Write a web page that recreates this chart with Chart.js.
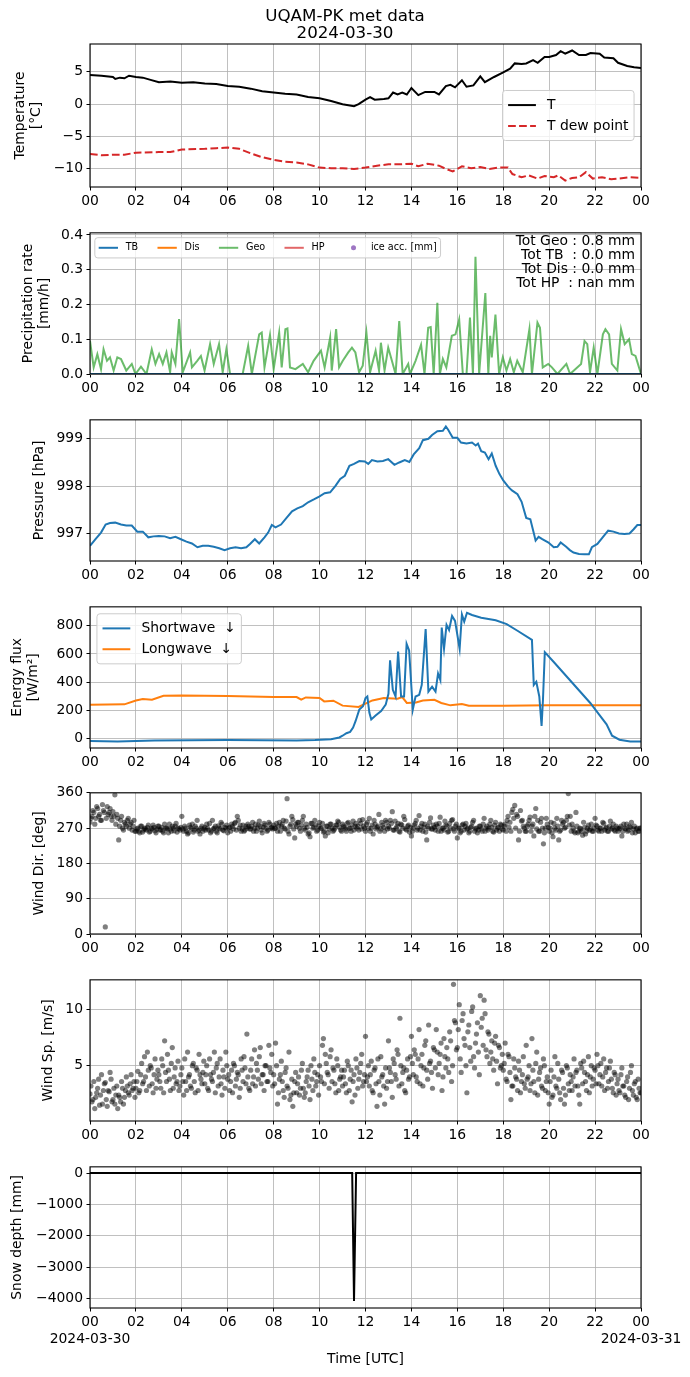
<!DOCTYPE html>
<html>
<head>
<meta charset="utf-8">
<script src="https://cdn.jsdelivr.net/npm/chart.js@4.4.1/dist/chart.umd.min.js"></script>
<style>
body { margin: 0; background: #fff; width: 690px; height: 1377px; position: relative; overflow: hidden; }
canvas { position: absolute; left: 0; }
</style>
</head>
<body>
<canvas id="c1"></canvas>
<canvas id="c2"></canvas>
<canvas id="c3"></canvas>
<canvas id="c4"></canvas>
<canvas id="c5"></canvas>
<canvas id="c6"></canvas>
<canvas id="c7"></canvas>
<script>
// ---- data ----
const hourTicks = [0, 2, 4, 6, 8, 10, 12, 14, 16, 18, 20, 22, 24];
const hourLabels = ['00', '02', '04', '06', '08', '10', '12', '14', '16', '18', '20', '22', '00'];

// temperature [°C]
const tempHours = [0, 0.5, 1, 1.1, 1.3, 1.5, 1.7, 2, 2.3, 2.6, 3, 3.5, 4, 4.5, 5, 5.5, 6, 6.5, 7, 7.5, 8, 8.5, 9, 9.5, 10, 10.5, 11, 11.5, 11.7, 12, 12.2, 12.4, 12.8, 13, 13.2, 13.4, 13.6, 13.8, 14, 14.3, 14.6, 15, 15.2, 15.5, 15.7, 15.9, 16.2, 16.4, 16.7, 17, 17.2, 17.6, 18, 18.3, 18.5, 18.8, 19, 19.3, 19.5, 19.8, 20, 20.3, 20.5, 20.7, 21, 21.3, 21.6, 21.8, 22.2, 22.4, 22.8, 23, 23.4, 23.7, 24];
const tempValues = [4.5, 4.4, 4.2, 3.9, 4.1, 4.0, 4.4, 4.2, 4.1, 3.8, 3.4, 3.5, 3.3, 3.4, 3.2, 3.1, 2.8, 2.7, 2.4, 2.0, 1.8, 1.6, 1.5, 1.1, 0.9, 0.5, 0.0, -0.3, 0.0, 0.7, 1.1, 0.7, 0.8, 0.9, 1.8, 1.5, 1.8, 1.5, 2.5, 1.4, 1.9, 1.9, 1.5, 2.8, 3.0, 2.6, 3.7, 2.7, 2.9, 4.3, 3.4, 4.2, 4.9, 5.5, 6.3, 6.2, 6.3, 6.8, 6.4, 7.3, 7.3, 7.6, 8.2, 7.8, 8.3, 7.6, 7.6, 7.9, 7.8, 7.2, 7.1, 6.4, 5.9, 5.7, 5.6];
const dewHours = [0, 0.5, 1, 1.5, 2, 3, 3.5, 4, 5, 5.5, 6, 6.5, 7, 7.5, 8, 8.5, 9, 9.5, 10, 10.5, 11, 11.5, 12, 12.5, 13, 13.5, 14, 14.3, 14.7, 15.2, 15.5, 15.8, 16.2, 16.6, 17, 17.4, 17.8, 18.2, 18.4, 18.8, 19.1, 19.5, 19.8, 20.2, 20.4, 20.7, 21, 21.3, 21.6, 21.9, 22.3, 22.7, 23, 23.5, 24];
const dewValues = [-7.7, -7.9, -7.8, -7.8, -7.5, -7.4, -7.4, -7.0, -6.9, -6.8, -6.7, -6.9, -7.6, -8.2, -8.6, -8.9, -9.0, -9.3, -9.8, -9.9, -9.9, -10.0, -9.8, -9.5, -9.3, -9.3, -9.2, -9.6, -9.2, -9.5, -10.0, -10.4, -9.6, -9.9, -9.7, -10.0, -9.8, -9.8, -10.8, -11.3, -11.0, -11.5, -11.1, -11.3, -11.0, -11.8, -11.4, -11.3, -10.5, -11.5, -11.3, -11.6, -11.5, -11.3, -11.4];
const tempTicks = [-10, -5, 0, 5];

// precipitation rate [mm/h]
const geoHours = [0, 0.16, 0.32, 0.48, 0.59, 0.74, 0.87, 1.03, 1.19, 1.35, 1.58, 1.82, 1.98, 2.22, 2.46, 2.69, 2.85, 3.01, 3.17, 3.33, 3.49, 3.56, 3.72, 3.88, 4.04, 4.36, 4.44, 4.67, 4.83, 4.99, 5.23, 5.39, 5.62, 5.78, 5.94, 6.10, 6.34, 6.65, 6.89, 7.05, 7.37, 7.48, 7.60, 7.84, 8.00, 8.24, 8.35, 8.51, 8.60, 8.71, 8.95, 9.27, 9.50, 9.74, 10.06, 10.22, 10.46, 10.53, 10.72, 10.85, 11.01, 11.25, 11.41, 11.56, 11.72, 11.88, 12.04, 12.20, 12.44, 12.59, 12.67, 12.83, 12.99, 13.15, 13.31, 13.47, 13.62, 13.86, 13.94, 14.18, 14.42, 14.57, 14.73, 14.84, 14.97, 15.13, 15.24, 15.37, 15.52, 15.76, 15.92, 16.08, 16.24, 16.40, 16.55, 16.68, 16.79, 16.95, 17.22, 17.35, 17.43, 17.50, 17.66, 17.82, 17.98, 18.14, 18.30, 18.46, 18.61, 18.85, 19.14, 19.25, 19.49, 19.60, 19.72, 19.96, 20.12, 20.36, 20.75, 20.91, 21.39, 21.54, 21.66, 21.78, 21.94, 22.10, 22.34, 22.45, 22.61, 22.73, 22.97, 23.13, 23.29, 23.48, 23.60, 23.76, 24];
const geoValues = [0.095, 0.019, 0.057, 0.014, 0.071, 0.038, 0.048, 0.010, 0.048, 0.043, 0.010, 0.029, 0, 0.021, 0, 0.071, 0.029, 0.057, 0.029, 0.062, 0.005, 0.062, 0.029, 0.158, 0.005, 0.062, 0.019, 0.038, 0.052, 0.010, 0.086, 0.029, 0.086, 0.005, 0.071, 0, 0, 0, 0.081, 0, 0.114, 0.119, 0.019, 0.112, 0.014, 0.119, 0.019, 0.129, 0.131, 0.019, 0.014, 0.029, 0.005, 0.038, 0.067, 0.019, 0.105, 0.010, 0.129, 0.019, 0.038, 0.062, 0.076, 0.062, 0.005, 0.024, 0.119, 0.005, 0.067, 0.010, 0.090, 0.010, 0.076, 0.038, 0, 0.152, 0, 0.029, 0, 0.038, 0.084, 0, 0.133, 0.135, 0, 0.205, 0, 0.043, 0.019, 0.110, 0.114, 0.157, 0, 0, 0.162, 0, 0.337, 0, 0.233, 0, 0.110, 0.048, 0.171, 0, 0.048, 0.010, 0.043, 0.005, 0.038, 0.005, 0.129, 0, 0.148, 0.133, 0.019, 0.029, 0.019, 0, 0.029, 0, 0.029, 0.095, 0.086, 0.005, 0.076, 0, 0.114, 0.129, 0.114, 0.029, 0.010, 0.129, 0.086, 0.100, 0.057, 0.052, 0];
const zeroHours = [0, 24];
const tbValues = [0, 0];
const disValues = [0, 0];
const hpValues = [0, 0];
const precipTicks = [0, 0.1, 0.2, 0.3, 0.4];
const precipTickLabels = ['0.0', '0.1', '0.2', '0.3', '0.4'];
const precipTotals = ['Tot Geo : 0.8 mm', 'Tot TB  : 0.0 mm', 'Tot Dis : 0.0 mm', 'Tot HP  : nan mm'];

// pressure [hPa]
const presHours = [0, 0.24, 0.48, 0.68, 0.87, 1.1, 1.35, 1.58, 1.82, 2.06, 2.3, 2.54, 2.77, 3.0, 3.25, 3.49, 3.72, 3.96, 4.2, 4.44, 4.68, 4.91, 5.15, 5.39, 5.63, 5.86, 6.1, 6.34, 6.58, 6.81, 6.97, 7.18, 7.37, 7.6, 7.76, 7.92, 8.08, 8.32, 8.56, 8.8, 9.03, 9.27, 9.5, 9.75, 9.98, 10.22, 10.46, 10.7, 10.9, 11.1, 11.3, 11.5, 11.73, 11.97, 12.12, 12.28, 12.52, 12.76, 12.99, 13.26, 13.47, 13.71, 13.91, 14.1, 14.34, 14.5, 14.74, 14.9, 15.13, 15.37, 15.5, 15.6, 15.8, 16.0, 16.16, 16.4, 16.64, 16.8, 16.9, 17.04, 17.2, 17.36, 17.5, 17.67, 17.83, 18.0, 18.23, 18.38, 18.62, 18.8, 19.0, 19.18, 19.34, 19.41, 19.54, 19.7, 19.97, 20.2, 20.36, 20.5, 20.74, 20.9, 21.06, 21.3, 21.54, 21.73, 21.86, 22.1, 22.33, 22.57, 22.8, 23.04, 23.28, 23.5, 23.68, 23.84, 24];
const presValues = [996.74, 996.88, 997.02, 997.19, 997.22, 997.23, 997.19, 997.17, 997.17, 997.04, 997.04, 996.92, 996.94, 996.95, 996.94, 996.90, 996.93, 996.88, 996.83, 996.79, 996.71, 996.74, 996.74, 996.72, 996.69, 996.65, 996.69, 996.71, 996.69, 996.71, 996.78, 996.88, 996.79, 996.92, 997.02, 997.18, 997.13, 997.19, 997.33, 997.47, 997.53, 997.58, 997.66, 997.72, 997.78, 997.85, 997.87, 998.01, 998.15, 998.22, 998.43, 998.47, 998.53, 998.52, 998.47, 998.55, 998.52, 998.53, 998.57, 998.45, 998.50, 998.55, 998.51, 998.67, 998.80, 998.97, 999.00, 999.08, 999.16, 999.17, 999.26, 999.19, 999.02, 999.02, 998.92, 998.90, 998.92, 998.86, 998.90, 998.74, 998.71, 998.57, 998.69, 998.43, 998.26, 998.12, 997.98, 997.91, 997.83, 997.67, 997.33, 997.30, 996.99, 996.85, 996.93, 996.88, 996.81, 996.71, 996.72, 996.81, 996.72, 996.65, 996.60, 996.57, 996.56, 996.56, 996.71, 996.78, 996.92, 997.06, 997.04, 997.00, 996.99, 997.00, 997.09, 997.18, 997.18];
const presTicks = [997, 998, 999];

// energy flux [W/m2]
const swHours = [0, 1.2, 2.8, 6, 9, 9.8, 10.5, 10.86, 11.0, 11.17, 11.33, 11.46, 11.57, 11.73, 11.89, 12.0, 12.08, 12.17, 12.25, 12.44, 12.68, 12.88, 13.0, 13.07, 13.19, 13.31, 13.42, 13.55, 13.68, 13.79, 13.9, 14.06, 14.18, 14.34, 14.45, 14.62, 14.74, 14.9, 15.05, 15.16, 15.26, 15.32, 15.42, 15.53, 15.64, 15.77, 15.9, 16.1, 16.2, 16.3, 16.42, 16.64, 17.04, 17.67, 18.15, 18.62, 19.25, 19.33, 19.44, 19.57, 19.67, 19.73, 19.81, 20.2, 21.79, 22.5, 22.74, 23.06, 23.53, 24];
const swValues = [-19, -21, -14, -12, -14, -12, -5, 7, 19, 37, 47, 77, 124, 205, 229, 287, 298, 182, 135, 163, 194, 240, 317, 555, 345, 298, 618, 298, 298, 672, 625, 205, 298, 310, 380, 777, 333, 368, 333, 462, 415, 788, 637, 807, 770, 870, 835, 637, 881, 830, 893, 877, 858, 840, 812, 765, 700, 380, 403, 298, 89, 275, 613, 543, 252, 100, 19, -9, -21, -21];
const lwHours = [0, 1.5, 2.0, 2.3, 2.7, 3.2, 4, 6, 8, 9.0, 9.2, 9.4, 10, 10.2, 10.6, 11.0, 11.7, 12.0, 12.3, 12.8, 13.4, 13.6, 13.8, 14.2, 14.5, 15.0, 15.3, 15.7, 16.2, 16.5, 18, 20, 24];
const lwValues = [240, 242, 270, 280, 275, 303, 305, 302, 294, 294, 275, 291, 287, 263, 268, 233, 224, 247, 270, 287, 282, 294, 252, 256, 270, 275, 252, 235, 245, 233, 233, 236, 235];
const fluxTicks = [0, 200, 400, 600, 800];

// wind direction [deg], one value every 5 min (second list offset by 2.5 min)
const windDir = [
  285, 300, 310, 295, 320, 305, 290, 315, 18, 325, 310, 300,
  312, 355, 305, 240, 290, 270, 285, 275, 295, 280, 265, 290,
  262, 270, 258, 275, 265, 268, 272, 260, 270, 278, 263, 268,
  275, 266, 262, 280, 270, 258, 268, 275, 263, 282, 270, 265,
  300, 262, 270, 255, 278, 268, 260, 275, 290, 265, 270, 262,
  272, 280, 265, 258, 290, 270, 262, 276, 268, 280, 263, 270,
  258, 272, 280, 268, 285, 300, 270, 262, 278, 265, 270, 275,
  268, 285, 270, 262, 278, 275, 258, 282, 270, 265, 280, 272,
  278, 270, 262, 285, 275, 290, 268, 345, 255, 280, 292, 245,
  275, 285, 262, 290, 270, 280, 255, 248, 282, 272, 278, 265,
  285, 270, 260, 250, 275, 268, 280, 262, 270, 278, 285, 265,
  280, 272, 262, 285, 270, 278, 265, 282, 275, 290, 268, 275,
  262, 285, 295, 270, 255, 280, 272, 305, 268, 278, 262, 285,
  275, 290, 312, 265, 270, 282, 260, 278, 300, 268, 275, 260,
  250, 270, 282, 265, 302, 275, 262, 280, 240, 270, 296, 268,
  272, 280, 262, 298, 270, 265, 278, 260, 282, 290, 268, 275,
  245, 270, 262, 280, 275, 268, 258, 272, 285, 262, 270, 265,
  275, 262, 295, 270, 265, 280, 272, 260, 285, 270, 262, 278,
  265, 280, 290, 272, 262, 318, 328, 305, 240, 315, 290, 270,
  262, 280, 298, 275, 250, 320, 290, 262, 295, 230, 270, 280,
  262, 285, 248, 270, 295, 240, 265, 280, 270, 290, 358, 300,
  280, 262, 310, 258, 270, 262, 285, 255, 270, 265, 280, 262,
  295, 275, 262, 270, 285, 265, 272, 262, 288, 270, 265, 275,
  262, 270, 250, 280, 268, 262, 275, 285, 268, 258, 270, 262,
  270
];
const windDirB = [
  295, 315, 280, 325, 300, 290, 330, 310, 295, 305, 320, 290,
  300, 280, 295, 275, 300, 265, 280, 290, 270, 285, 275, 262,
  268, 262, 275, 260, 270, 265, 278, 262, 268, 272, 258, 275,
  265, 272, 258, 270, 268, 280, 262, 270, 275, 260, 268, 272,
  268, 275, 262, 258, 272, 280, 265, 270, 262, 255, 275, 268,
  265, 270, 282, 262, 268, 275, 258, 270, 285, 265, 272, 278,
  270, 262, 275, 282, 265, 290, 278, 268, 262, 275, 280, 268,
  275, 262, 280, 270, 288, 265, 272, 278, 262, 285, 270, 268,
  270, 282, 275, 262, 280, 270, 288, 262, 275, 300, 268, 280,
  285, 270, 278, 300, 265, 272, 258, 282, 270, 290, 262, 275,
  270, 282, 262, 275, 258, 280, 270, 265, 278, 288, 272, 262,
  275, 268, 282, 270, 262, 288, 275, 270, 265, 282, 292, 270,
  280, 270, 262, 278, 290, 268, 275, 262, 285, 272, 290, 268,
  270, 282, 265, 288, 275, 262, 280, 270, 292, 265, 278, 272,
  262, 278, 290, 270, 265, 282, 272, 260, 275, 285, 268, 278,
  265, 275, 282, 262, 270, 288, 275, 262, 270, 292, 262, 280,
  270, 258, 278, 265, 282, 270, 262, 275, 290, 268, 258, 275,
  268, 280, 262, 275, 270, 290, 262, 278, 265, 272, 280, 268,
  275, 262, 300, 285, 310, 295, 270, 300, 262, 288, 275, 262,
  275, 290, 262, 280, 300, 268, 262, 285, 270, 258, 295, 272,
  270, 258, 282, 265, 275, 262, 290, 285, 272, 300, 278, 262,
  270, 258, 275, 262, 268, 252, 272, 262, 278, 268, 262, 270,
  278, 265, 270, 262, 282, 270, 262, 275, 268, 280, 262, 270,
  268, 275, 262, 270, 280, 265, 272, 258, 275, 268, 262, 270
];
const dirTicks = [0, 90, 180, 270, 360];

// wind speed [m/s], one value every 5 min (second list offset by 2.5 min)
const windSpeed = [
  2.5, 1.8, 3.6, 2.2, 3.0, 1.5, 4.2, 2.8, 3.5, 1.4, 2.7, 3.8,
  2.0, 1.6, 3.2, 2.4, 1.8, 3.0, 2.2, 4.0, 2.6, 3.4, 2.8, 3.6,
  3.0, 4.5, 2.8, 5.2, 3.6, 4.0, 6.2, 3.2, 4.8, 2.6, 5.6, 3.8,
  4.2, 3.0, 5.0, 7.2, 3.6, 4.6, 2.8, 6.6, 4.0, 3.4, 5.4, 3.2,
  4.8, 2.4, 3.6, 6.2, 4.2, 3.0, 5.2, 2.6, 4.6, 6.0, 3.8, 4.4,
  3.4, 5.0, 2.8, 4.2, 3.6, 6.2, 4.8, 3.2, 5.6, 2.4, 4.0, 6.2,
  3.8, 2.8, 4.6, 5.2, 3.2, 4.4, 2.2, 5.6, 3.6, 4.8, 7.8, 3.0,
  4.6, 3.4, 6.4, 5.2, 3.8, 6.6, 4.2, 2.8, 5.0, 3.6, 4.8, 6.0,
  4.2, 7.0, 1.6, 3.8, 5.4, 2.8, 4.4, 3.2, 6.2, 2.4, 1.4, 3.6,
  2.6, 4.0, 3.0, 5.2, 2.2, 3.6, 4.6, 2.0, 3.8, 5.6, 3.2, 4.2,
  5.0, 3.6, 7.4, 6.0, 4.4, 3.0, 6.4, 4.8, 3.4, 5.6, 2.8, 4.0,
  3.2, 4.6, 2.6, 5.0, 3.8, 1.8, 4.2, 5.6, 3.0, 4.4, 6.0, 3.6,
  7.6, 4.0, 3.2, 5.4, 2.6, 4.8, 1.4, 3.6, 5.8, 4.2, 1.6, 3.0,
  7.2, 4.4, 2.2, 5.2, 3.8, 6.0, 9.2, 3.4, 4.8, 2.6, 5.6, 4.0,
  7.6, 4.2, 6.0, 3.6, 8.2, 5.0, 3.2, 6.8, 4.6, 8.6, 5.4, 3.0,
  6.4, 8.2, 4.2, 6.0, 2.8, 7.4, 4.8, 5.6, 8.0, 3.6, 12.2, 8.8,
  6.6, 10.4, 4.4, 9.6, 6.8, 2.6, 8.6, 5.4, 10.2, 4.8, 7.8, 6.2,
  11.2, 9.2, 10.8, 6.4, 8.0, 5.2, 7.2, 4.6, 7.6, 3.4, 6.6, 5.0,
  4.6, 7.0, 3.6, 5.8, 2.0, 3.2, 4.8, 3.8, 5.4, 2.6, 4.2, 3.4,
  6.8, 4.0, 2.8, 7.4, 3.6, 5.2, 2.4, 4.4, 3.2, 5.6, 2.8, 4.0,
  1.6, 4.6, 2.4, 5.8, 3.0, 3.8, 2.0, 4.4, 1.6, 5.0, 3.4, 4.2,
  2.8, 5.6, 4.4, 3.2, 1.6, 4.8, 5.4, 3.6, 4.2, 2.6, 5.0, 3.8,
  4.6, 6.0, 3.4, 5.2, 4.0, 2.8, 4.8, 3.6, 5.4, 3.0, 4.4, 2.4,
  3.8, 2.6, 4.8, 3.2, 2.2, 4.0, 3.0, 5.0, 2.4, 3.6, 2.0, 3.0,
  2.6
];
const windSpeedB = [
  3.2, 2.0, 1.2, 2.6, 3.8, 2.4, 1.6, 3.4, 2.0, 2.8, 4.4, 1.8,
  3.0, 2.4, 1.2, 2.2, 3.6, 1.6, 2.8, 3.2, 2.4, 4.2, 3.0, 2.2,
  3.6, 2.6, 4.2, 3.4, 5.8, 2.8, 4.6, 5.0, 3.4, 4.2, 3.0, 4.6,
  3.6, 5.6, 2.6, 4.4, 6.0, 3.8, 5.2, 3.0, 4.8, 3.6, 2.8, 4.2,
  3.6, 5.6, 2.8, 4.0, 3.2, 5.0, 3.6, 4.8, 2.8, 4.2, 3.4, 5.4,
  4.2, 3.0, 5.6, 3.8, 4.4, 2.6, 5.2, 4.0, 3.4, 4.6, 3.0, 5.0,
  4.2, 3.6, 2.6, 5.0, 3.8, 4.2, 3.0, 4.6, 5.8, 3.4, 4.0, 2.8,
  5.6, 4.0, 3.2, 4.6, 5.8, 3.4, 4.2, 5.0, 3.6, 6.8, 4.4, 3.2,
  3.4, 5.0, 2.6, 4.2, 3.6, 2.2, 4.8, 3.0, 2.0, 3.8, 2.6, 4.4,
  3.4, 2.4, 4.6, 3.0, 2.6, 4.0, 3.2, 5.0, 2.8, 4.4, 3.6, 2.4,
  4.0, 6.8, 3.4, 5.2, 4.2, 5.8, 3.6, 4.6, 2.6, 5.0, 3.8, 4.6,
  4.0, 3.4, 5.4, 2.8, 4.6, 3.6, 2.4, 4.8, 3.8, 5.2, 3.2, 4.2,
  3.6, 5.0, 4.2, 2.8, 4.6, 3.4, 5.6, 2.4, 4.0, 3.2, 4.8, 3.6,
  4.8, 3.6, 5.6, 4.2, 6.4, 3.2, 5.0, 4.4, 2.8, 4.6, 3.8, 5.8,
  5.2, 6.4, 4.0, 5.6, 3.4, 6.0, 4.8, 7.2, 3.8, 5.2, 4.4, 6.6,
  4.8, 6.2, 5.2, 7.0, 4.0, 5.8, 6.6, 4.4, 7.2, 5.0, 9.0, 6.4,
  8.2, 5.6, 9.0, 7.4, 5.0, 8.0, 6.6, 9.8, 5.8, 7.0, 8.8, 4.2,
  8.4, 6.8, 9.6, 5.8, 7.8, 6.2, 5.6, 7.0, 5.4, 6.8, 4.8, 6.0,
  5.2, 3.8, 6.0, 4.4, 3.2, 5.6, 4.0, 2.8, 4.6, 3.6, 5.8, 3.0,
  3.8, 5.0, 3.4, 4.6, 2.6, 6.2, 3.8, 4.8, 3.0, 5.0, 3.6, 2.6,
  3.6, 2.2, 4.0, 3.2, 5.2, 2.6, 4.6, 3.0, 2.4, 4.8, 2.8, 3.6,
  4.0, 3.2, 4.6, 2.4, 5.2, 3.4, 4.4, 2.8, 5.8, 4.0, 3.2, 4.8,
  3.4, 5.0, 4.2, 3.2, 5.6, 4.4, 3.0, 4.8, 3.8, 2.6, 4.2, 3.4,
  2.8, 4.2, 3.2, 2.4, 3.6, 2.0, 4.4, 2.8, 3.4, 2.2, 3.8, 2.6
];
const speedTicks = [5, 10];

// snow depth [mm]
const snowHours = [0, 11.42, 11.5, 11.59, 24];
const snowValues = [0, 0, -4080, 0, 0];
const snowTicks = [-4000, -3000, -2000, -1000, 0];

// ---- layout / style ----
const FONT = '"DejaVu Sans", sans-serif';
const FS = 13.9;
const GRID = '#b0b0b0';
const PLOT_L = 90, PLOT_R = 641, PLOT_H = 143;

Chart.defaults.font.family = FONT;
Chart.defaults.font.size = FS;
Chart.defaults.color = '#000';

const minus = v => String(v).replace('-', '\u2212');
const pts = (xs, ys) => xs.map((x, i) => ({ x: x, y: ys[i] }));
const every5min = (ys, offsetMin) => ys.map((y, i) => ({ x: (i * 5 + offsetMin) / 60, y: y }));

function drawLegend(ctx, a, chart, lg) {
    const fs = lg.fontSize, pad = 0.4 * fs, hl = 2 * fs, tp = 0.8 * fs, cs = 2 * fs;
    ctx.font = fs + 'px ' + FONT;
    const items = chart.data.datasets.map(ds => ({ ds: ds, w: ctx.measureText(ds.label).width }));
    const ncol = lg.ncol || 1;
    const nrow = Math.ceil(items.length / ncol);
    const colW = [];
    for (let c = 0; c < ncol; c++) {
        let m = 0;
        for (let r = 0; r < nrow; r++) {
            const it = items[c * nrow + r];
            if (it) m = Math.max(m, it.w);
        }
        colW.push(hl + tp + m);
    }
    const w = 2 * pad + colW.reduce((s, v) => s + v, 0) + (ncol - 1) * cs;
    const h = nrow * 1.5 * fs + 0.6 * fs;
    const ba = 0.5 * fs;
    let x, y;
    if (lg.loc === 'center right') {
        x = a.right - ba - w;
        y = (a.top + a.bottom) / 2 - h / 2;
    } else {
        x = a.left + ba;
        y = a.top + ba;
    }
    ctx.beginPath();
    ctx.roundRect(x, y, w, h, 3);
    ctx.fillStyle = 'rgba(255,255,255,0.8)';
    ctx.fill();
    ctx.strokeStyle = '#cccccc';
    ctx.lineWidth = 1;
    ctx.stroke();

    let cx = x + pad;
    for (let c = 0; c < ncol; c++) {
        for (let r = 0; r < nrow; r++) {
            const it = items[c * nrow + r];
            if (!it) continue;
            const ds = it.ds;
            const cy = y + h / 2 + (r - (nrow - 1) / 2) * 1.5 * fs;
            if (ds.showLine === false) {
                ctx.beginPath();
                ctx.arc(cx + hl / 2, cy, 2.5, 0, Math.PI * 2);
                ctx.fillStyle = ds.backgroundColor;
                ctx.fill();
            } else {
                ctx.beginPath();
                ctx.setLineDash(ds.borderDash || []);
                ctx.moveTo(cx, cy);
                ctx.lineTo(cx + hl, cy);
                ctx.strokeStyle = ds.borderColor;
                ctx.lineWidth = ds.borderWidth;
                ctx.stroke();
                ctx.setLineDash([]);
            }
            ctx.fillStyle = '#000';
            ctx.textAlign = 'left';
            ctx.textBaseline = 'middle';
            ctx.fillText(ds.label, cx + hl + tp, cy);
        }
        cx += colW[c] + cs;
    }
}

function decor(extra) {
    return {
        id: 'decor',
        afterDraw(chart) {
            const { ctx, chartArea: a } = chart;
            ctx.save();
            ctx.strokeStyle = '#000';
            ctx.lineWidth = 1.1;
            ctx.strokeRect(a.left, a.top, a.right - a.left, a.bottom - a.top);
            if (extra) extra(ctx, a, chart);
            ctx.restore();
        }
    };
}

function makePanel(cfg) {
    const cv = document.getElementById(cfg.id);
    const H = cfg.padTop + PLOT_H + cfg.xH;
    cv.width = 690;
    cv.height = H;
    cv.style.top = cfg.canvasTop + 'px';
    cv.style.width = '690px';
    cv.style.height = H + 'px';

    new Chart(cv, {
        type: 'scatter',
        data: { datasets: cfg.datasets },
        options: {
            responsive: false,
            animation: false,
            devicePixelRatio: 1,
            layout: { padding: { top: cfg.padTop, right: 690 - PLOT_R, left: 0, bottom: 0 } },
            plugins: { legend: { display: false }, tooltip: { enabled: false } },
            scales: {
                x: {
                    type: 'linear', min: 0, max: 24,
                    afterBuildTicks: s => { s.ticks = hourTicks.map(v => ({ value: v })); },
                    afterFit: s => { s.height = cfg.xH; },
                    ticks: {
                        autoSkip: false, maxRotation: 0, padding: 3,
                        callback: (v, i) => cfg.xLabel ? cfg.xLabel(i) : hourLabels[i]
                    },
                    grid: { color: GRID, lineWidth: 0.8, tickLength: 3.5, tickColor: '#000', tickWidth: 1 },
                    border: { display: false },
                    title: cfg.xTitle
                        ? { display: true, text: cfg.xTitle, padding: { top: 0, bottom: 9.6 } }
                        : { display: false }
                },
                y: {
                    type: 'linear', min: cfg.yMin, max: cfg.yMax,
                    afterBuildTicks: s => { s.ticks = cfg.yTicks.map(v => ({ value: v })); },
                    afterFit: s => { s.width = PLOT_L; },
                    ticks: {
                        autoSkip: false, padding: 3.5,
                        callback: (v, i) => cfg.yTickLabels ? cfg.yTickLabels[i] : minus(v)
                    },
                    grid: { color: GRID, lineWidth: 0.8, tickLength: 3.5, tickColor: '#000', tickWidth: 1 },
                    border: { display: false },
                    title: { display: true, text: cfg.yTitle, padding: { top: cfg.yTitlePad, bottom: 0 } }
                }
            }
        },
        plugins: [decor(cfg.extra)]
    });
}

const lineDs = (label, xs, ys, color, extra) => Object.assign({
    label: label, data: pts(xs, ys), showLine: true, borderColor: color, backgroundColor: color,
    borderWidth: 2, pointRadius: 0, tension: 0
}, extra || {});

const scatterDs = (label, data) => ({
    label: label, data: data, showLine: false, pointRadius: 2.6, borderWidth: 0,
    backgroundColor: 'rgba(0,0,0,0.5)', pointBackgroundColor: 'rgba(0,0,0,0.5)'
});

// 1. temperature
makePanel({
    id: 'c1', canvasTop: 0, padTop: 44, xH: 40,
    yMin: -12.8, yMax: 9.3, yTicks: tempTicks,
    yTitle: ['Temperature', '[\u00b0C]'], yTitlePad: 11.7,
    datasets: [
        lineDs('T', tempHours, tempValues, '#000000'),
        lineDs('T dew point', dewHours, dewValues, '#d62728', { borderDash: [7.7, 3.3] })
    ],
    extra: (ctx, a, chart) => {
        ctx.fillStyle = '#000';
        ctx.textAlign = 'center';
        ctx.textBaseline = 'middle';
        ctx.font = '16.7px ' + FONT;
        ctx.fillText('UQAM-PK met data', 345, 17);
        ctx.fillText('2024-03-30', 345, 34);
        drawLegend(ctx, a, chart, { fontSize: FS, loc: 'center right' });
    }
});

// 2. precipitation
makePanel({
    id: 'c2', canvasTop: 221, padTop: 10, xH: 40,
    yMin: 0, yMax: 0.406, yTicks: precipTicks, yTickLabels: precipTickLabels,
    yTitle: ['Precipitation rate', '[mm/h]'], yTitlePad: 19.7,
    datasets: [
        lineDs('TB', zeroHours, tbValues, '#1f77b4'),
        lineDs('Dis', zeroHours, disValues, '#ff7f0e'),
        lineDs('Geo', geoHours, geoValues, 'rgba(44,160,44,0.7)', { borderWidth: 2 }),
        lineDs('HP', zeroHours, hpValues, 'rgba(214,39,40,0.7)'),
        { label: 'ice acc. [mm]', data: [], showLine: false, pointRadius: 2.5, backgroundColor: 'rgba(148,103,189,0.9)' }
    ],
    extra: (ctx, a, chart) => {
        drawLegend(ctx, a, chart, { fontSize: 9.65, loc: 'upper left', ncol: 5 });
        ctx.fillStyle = '#000';
        ctx.textAlign = 'right';
        ctx.textBaseline = 'middle';
        ctx.font = FS + 'px ' + FONT;
        precipTotals.forEach((t, i) => ctx.fillText(t, 635, a.top + 9 + i * 14));
    }
});

// 3. pressure
makePanel({
    id: 'c3', canvasTop: 408, padTop: 10, xH: 40,
    yMin: 996.42, yMax: 999.4, yTicks: presTicks,
    yTitle: 'Pressure [hPa]', yTitlePad: 30.7,
    datasets: [lineDs('P', presHours, presValues, '#1f77b4')]
});

// 4. radiation
makePanel({
    id: 'c4', canvasTop: 595, padTop: 10, xH: 40,
    yMin: -68, yMax: 935, yTicks: fluxTicks,
    yTitle: ['Energy flux', '[W/m\u00b2]'], yTitlePad: 8.7,
    datasets: [
        lineDs('Shortwave  \u2193', swHours, swValues, '#1f77b4'),
        lineDs('Longwave  \u2193', lwHours, lwValues, '#ff7f0e')
    ],
    extra: (ctx, a, chart) => drawLegend(ctx, a, chart, { fontSize: FS, loc: 'upper left' })
});

// 5. wind direction
makePanel({
    id: 'c5', canvasTop: 781, padTop: 10, xH: 40,
    yMin: 0, yMax: 360, yTicks: dirTicks,
    yTitle: 'Wind Dir. [deg]', yTitlePad: 30.7,
    datasets: [scatterDs('dir', every5min(windDir, 0).concat(every5min(windDirB, 2.5)))]
});

// 6. wind speed
makePanel({
    id: 'c6', canvasTop: 968, padTop: 10, xH: 40,
    yMin: 0.1, yMax: 12.6, yTicks: speedTicks,
    yTitle: 'Wind Sp. [m/s]', yTitlePad: 39.7,
    datasets: [scatterDs('speed', every5min(windSpeed, 0).concat(every5min(windSpeedB, 2.5)))]
});

// 7. snow depth
makePanel({
    id: 'c7', canvasTop: 1155, padTop: 10, xH: 69,
    yMin: -4300, yMax: 200, yTicks: snowTicks,
    yTitle: 'Snow depth [mm]', yTitlePad: 8.7,
    xTitle: 'Time [UTC]',
    xLabel: i => i === 0 ? ['00', '2024-03-30'] : (i === hourTicks.length - 1 ? ['00', '2024-03-31'] : hourLabels[i]),
    datasets: [lineDs('snow', snowHours, snowValues, '#000000')]
});
</script>
</body>
</html>
